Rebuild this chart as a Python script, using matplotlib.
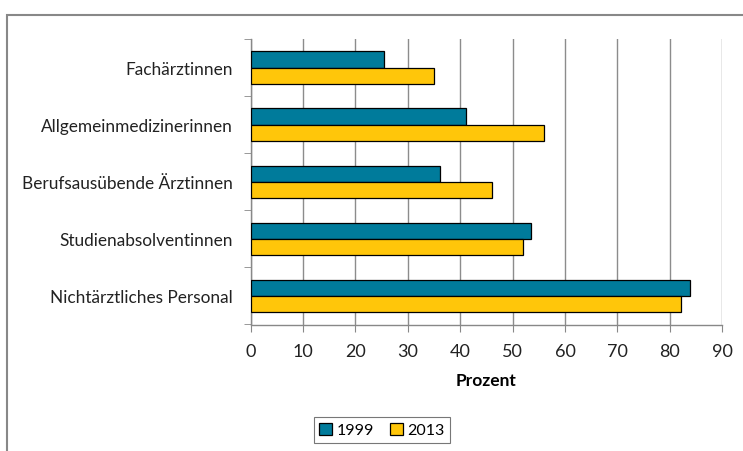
import matplotlib
matplotlib.use("Agg")
import matplotlib.pyplot as plt
import numpy as np
from matplotlib.patches import Rectangle

categories = ["Fachärztinnen", "Allgemeinmedizinerinnen", "Berufsausübende Ärztinnen",
              "Studienabsolventinnen", "Nichtärztliches Personal"]
series_names = ["1999", "2013"]
values_1999 = [25.5, 41.1, 36.1, 53.6, 83.8]
values_2013 = [35.0, 56.0, 46.0, 52.0, 82.1]
xticks = [0, 10, 20, 30, 40, 50, 60, 70, 80, 90]

plt.rcParams['font.family'] = ['Lato', 'DejaVu Sans']

W, H = 743, 452
fig = plt.figure(figsize=(W / 100, H / 100), dpi=100)
ax = fig.add_axes([250.5 / W, 1 - 325.5 / H, (722.3 - 250.5) / W, (325.5 - 40.2) / H])

n = len(categories)
y = np.arange(n)
bh = 0.286
ax.barh(y - bh / 2, values_1999, height=bh, color="#007B9B", edgecolor="black",
        linewidth=0.9, label=series_names[0], zorder=3)
ax.barh(y + bh / 2, values_2013, height=bh, color="#FFC60A", edgecolor="black",
        linewidth=0.9, label=series_names[1], zorder=3)

ax.set_ylim(n - 0.5, -0.5)
ax.set_xlim(0, 90)
ax.set_xticks(xticks)
ax.set_xticklabels([str(t) for t in xticks], fontsize=13, color="#222222")
ax.set_yticks(y)
ax.set_yticklabels(categories, fontsize=12.4, color="#222222")
ax.set_yticks(np.arange(n + 1) - 0.5, minor=True)
ax.tick_params(axis="y", which="major", length=0, pad=13)
ax.tick_params(axis="y", which="minor", length=5, color="#888888", direction="out")
ax.tick_params(axis="x", length=5, color="#888888", direction="out", pad=8)
ax.grid(axis="x", color="#8c8c8c", linewidth=1.0, zorder=0)
for s in ["top", "right"]:
    ax.spines[s].set_visible(False)
for s in ["left", "bottom"]:
    ax.spines[s].set_color("#888888")
    ax.spines[s].set_linewidth(1.0)
ax.set_xlabel("Prozent", fontsize=12.5, fontweight="bold", labelpad=10)

leg = fig.legend(loc="center", bbox_to_anchor=(382 / W, 1 - 431 / H), ncol=2,
                 fontsize=11.5, frameon=True, fancybox=False, edgecolor="#555555",
                 handlelength=0.8, handleheight=0.8, handletextpad=0.3,
                 columnspacing=1.0, borderpad=0.35)
leg.get_frame().set_linewidth(0.8)

# outer chart frame (cropped on right and bottom)
fig.patches.append(Rectangle((7 / W, -0.1), 1.2, 1 - 16 / H + 0.1,
                             transform=fig.transFigure, fill=False,
                             edgecolor="#888888", linewidth=1.5))

fig.savefig("out.png", dpi=100)
